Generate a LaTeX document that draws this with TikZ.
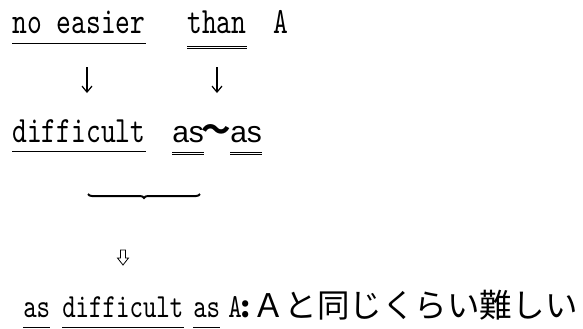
\documentclass[tikz,border=0pt]{standalone}
\usepackage{fontspec}
\usetikzlibrary{calc,arrows.meta,decorations.pathreplacing}
\newfontfamily\mymono[FakeStretch=0.76]{lmmono10-regular.otf}
\newfontfamily\mysans{Liberation Sans}
\newfontfamily\myjp{Noto Sans CJK JP}
\begin{document}
\begin{tikzpicture}[x=0.75pt,y=-0.75pt,
  big/.style={inner sep=0pt, anchor=base west, font=\mymono\fontsize{27.8}{32}\selectfont},
  small/.style={inner sep=0pt, anchor=base west, font=\mymono\fontsize{25.3}{30}\selectfont},
  sansas/.style={inner sep=0pt, anchor=base west, font=\mysans\fontsize{22.5}{26}\selectfont},
  jptext/.style={inner sep=0pt, anchor=base west, font=\myjp\fontsize{24.4}{29}\selectfont},
  ul/.style={line width=0.75pt},
  downarr/.style={line width=0.9pt, -{Straight Barb[length=4.5pt,width=7.5pt]}},
  bracestyle/.style={line width=1.5pt, decorate, decoration={brace, amplitude=3pt}},
  hollow/.style={line width=0.6pt}
]
\useasboundingbox (0,0) rectangle (583,329);

% line 1
\node[big] (ne) at (12,33) {no easier};
\node[big] (than) at (187,33) {than};
\node[big] (A1) at (273,33) {A};
\draw[ul] ($(ne.base west)+(0,10)$) -- ($(ne.base east)+(0,10)$);
\draw[ul] ($(than.base west)+(0,13)$) -- ($(than.base east)+(0,13)$);
\draw[ul] ($(than.base west)+(0,15.7)$) -- ($(than.base east)+(0,15.7)$);

% arrows
\coordinate (a1s) at (87,67);
\coordinate (a1e) at (87,93);
\coordinate (a2s) at (217,67);
\coordinate (a2e) at (217,93);
\draw[downarr] (a1s) -- (a1e);
\draw[downarr] (a2s) -- (a2e);

% line 2
\node[big] (diff) at (12,142) {difficult};
\node[sansas] (as1) at (172,142) {as};
\node[inner sep=0pt, anchor=base, font=\myjp\bfseries\fontsize{22}{26}\selectfont] (tl) at (216.5,140) {～};
\node[sansas] (as2) at (230,142) {as};
\draw[ul] ($(diff.base west)+(0,9)$) -- ($(diff.base east)+(0,9)$);
\draw[ul] ($(as1.base west)+(0,10)$) -- ($(as1.base east)+(0,10)$);
\draw[ul] ($(as1.base west)+(0,12.5)$) -- ($(as1.base east)+(0,12.5)$);
\draw[ul] ($(as2.base west)+(0,10)$) -- ($(as2.base east)+(0,10)$);
\draw[ul] ($(as2.base west)+(0,12.5)$) -- ($(as2.base east)+(0,12.5)$);

% brace
\coordinate (br) at (200,194);
\coordinate (bl) at (88,194);
\draw[bracestyle] (br) -- (bl);

% hollow arrow
\draw[hollow] (120.5,250) -- (125.5,250) -- (125.5,258) -- (128.5,258) -- (123,265) -- (117.5,258) -- (120.5,258) -- cycle;

% line 3
\node[small] (as3) at (23,317) {as};
\node[small] (diff3) at (62,317) {difficult};
\node[small] (as4) at (193,317) {as};
\node[small] (A3) at (228,317) {A};
\node[inner sep=0pt, anchor=base, font=\myjp\bfseries\fontsize{22}{26}\selectfont] (col) at (245.5,317) {:};
\node[jptext] (jp) at (252,317) {Ａと同じくらい難しい};
\draw[ul] ($(as3.base west)+(0,10)$) -- ($(as3.base east)+(0,10)$);
\draw[ul] ($(diff3.base west)+(0,10)$) -- ($(diff3.base east)+(0,10)$);
\draw[ul] ($(as4.base west)+(0,10)$) -- ($(as4.base east)+(0,10)$);
\end{tikzpicture}
\end{document}
